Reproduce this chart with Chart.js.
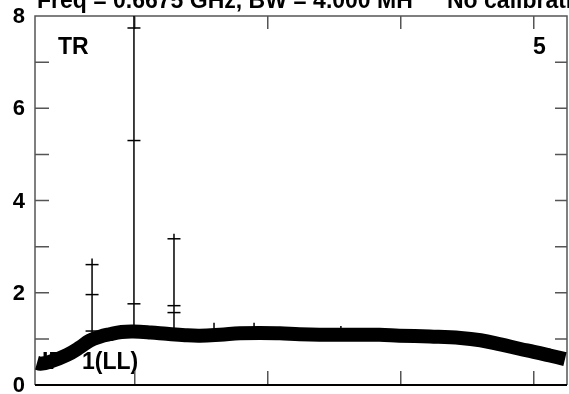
<!DOCTYPE html>
<html>
<head>
<meta charset="utf-8">
<script src="https://cdn.jsdelivr.net/npm/chart.js@4"></script>
<style>
  body { margin: 0; background: #fff; }
</style>
</head>
<body>
<canvas id="chart" width="569" height="394"></canvas>
<script>
// smooth amplitude band
const bandX = [0.265, 0.29, 0.36, 0.49, 0.59, 0.66, 0.74, 0.81, 0.90, 0.99, 1.12, 1.24, 1.38, 1.49, 1.64,
  1.79, 1.94, 2.09, 2.24, 2.39, 2.62, 2.84, 2.99, 3.22, 3.45, 3.60, 3.75, 3.90, 4.00, 4.12, 4.235];
const bandY = [0.48, 0.46, 0.50, 0.65, 0.82, 0.96, 1.05, 1.10, 1.15, 1.16, 1.14, 1.11, 1.08, 1.07, 1.09,
  1.12, 1.13, 1.12, 1.10, 1.09, 1.09, 1.09, 1.07, 1.05, 1.02, 0.97, 0.88, 0.78, 0.72, 0.64, 0.56];

// vertical spikes
const spikeX = [0.679, 0.994, 1.295, 1.596, 1.897, 2.55];
const spikeLow = [1.00, 1.16, 1.10, 1.08, 1.12, 1.09];
const spikeHigh = [2.74, 8.0, 3.28, 1.35, 1.35, 1.28];

// cross marks on the spikes
const crossX = [0.679, 0.679, 0.679, 0.994, 0.994, 0.994, 1.295, 1.295, 1.295];
const crossY = [2.61, 1.96, 1.17, 7.74, 5.30, 1.76, 3.17, 1.72, 1.57];

const xTicks = [1, 2, 3, 4];
const yTicks = [1, 2, 3, 4, 5, 6, 7];
const yLabels = [0, 2, 4, 6, 8];

const FONT = "'Liberation Sans', Arial, sans-serif";

const datasets = [];
spikeX.forEach((x, i) => {
  datasets.push({
    type: "line",
    data: [{ x: x, y: spikeLow[i] }, { x: x, y: spikeHigh[i] }],
    borderColor: "#000",
    borderWidth: 1.5,
    pointRadius: 0,
  });
});
datasets.push({
  type: "scatter",
  data: crossX.map((x, i) => ({ x: x, y: crossY[i] })),
  pointStyle: "line",
  pointRadius: 6.5,
  borderColor: "#000",
  borderWidth: 1.5,
});
datasets.push({
  type: "line",
  data: bandX.map((x, i) => ({ x: x, y: bandY[i] })),
  borderColor: "#000",
  borderWidth: 14,
  tension: 0.4,
  pointRadius: 0,
});

// frame, inward ticks and text labels
const framePlugin = {
  id: "frame",
  beforeDatasetsDraw(chart) {
    const ctx = chart.ctx;
    const a = chart.chartArea;
    const xs = chart.scales.x;
    const ys = chart.scales.y;
    ctx.save();
    ctx.fillStyle = "#000";
    ctx.font = "bold 23px " + FONT;
    ctx.textBaseline = "alphabetic";
    ctx.fillText("IF", 42, 369);
    ctx.fillText("1(LL)", 82, 369);
    ctx.fillText("TR", 58, 54);
    ctx.fillText("5", 533, 54);

    ctx.font = "bold 22px " + FONT;
    ctx.textAlign = "right";
    ctx.textBaseline = "middle";
    yLabels.forEach((v) => {
      ctx.fillText(String(v), 25, ys.getPixelForValue(v) + 1);
    });

    ctx.strokeStyle = "#555";
    ctx.lineWidth = 1.5;
    ctx.beginPath();
    xTicks.forEach((v) => {
      const px = xs.getPixelForValue(v);
      ctx.moveTo(px, a.bottom);
      ctx.lineTo(px, a.bottom - 14);
      ctx.moveTo(px, a.top);
      ctx.lineTo(px, a.top + 13);
    });
    yTicks.forEach((v) => {
      const py = ys.getPixelForValue(v);
      ctx.moveTo(a.left, py);
      ctx.lineTo(a.left + 14, py);
      ctx.moveTo(a.right, py);
      ctx.lineTo(a.right - 12, py);
    });
    ctx.stroke();

    ctx.beginPath();
    ctx.moveTo(a.left, a.bottom);
    ctx.lineTo(a.left, a.top);
    ctx.lineTo(a.right, a.top);
    ctx.lineTo(a.right, a.bottom);
    ctx.stroke();
    ctx.strokeStyle = "#000";
    ctx.lineWidth = 2;
    ctx.beginPath();
    ctx.moveTo(a.left, a.bottom);
    ctx.lineTo(a.right, a.bottom);
    ctx.stroke();
    ctx.restore();
  },
  afterDraw(chart) {
    const ctx = chart.ctx;
    ctx.save();
    ctx.fillStyle = "#000";
    ctx.font = "bold 23px " + FONT;
    ctx.fillText("Freq = 0.6675 GHz, BW = 4.000 MH", 37, 8);
    ctx.fillText("No calibration", 447, 8);
    ctx.restore();
  },
};

const chart = new Chart(document.getElementById("chart"), {
  data: { datasets: datasets },
  options: {
    responsive: false,
    animation: false,
    devicePixelRatio: 1,
    layout: { autoPadding: false, padding: { top: 16, right: 2, bottom: 9, left: 0 } },
    plugins: { legend: { display: false }, tooltip: { enabled: false } },
    scales: {
      x: { type: "linear", min: 0.25, max: 4.25, display: false },
      y: {
        min: 0,
        max: 8,
        grid: { display: false, drawTicks: false },
        border: { display: false },
        ticks: { display: false },
        afterFit(scale) {
          scale.width = 35;
        },
      },
    },
  },
  plugins: [framePlugin],
});

// nudge the padding so the plot frame sits where it does in the picture
for (let k = 0; k < 3; k++) {
  const a = chart.chartArea;
  const p = chart.options.layout.padding;
  p.top += 16 - a.top;
  p.bottom += a.bottom - 385;
  p.right += a.right - 567;
  chart.update();
}
</script>
</body>
</html>
